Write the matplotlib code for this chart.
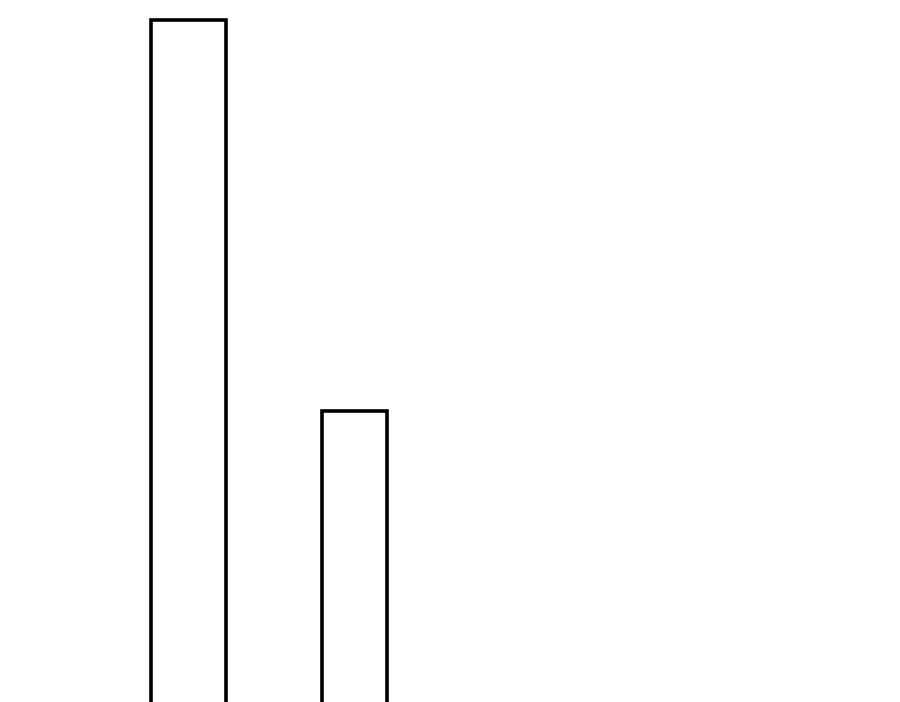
import matplotlib
matplotlib.use("Agg")
import matplotlib.pyplot as plt

# Datos de las barras
categories = ["A", "B"]
values = [100, 45]

# Estilo (anchuras en unidades de categoría)
bar_widths = [0.452, 0.392]

fig = plt.figure(figsize=(9, 7.02), dpi=100)
ax = fig.add_axes([0, 0, 1, 1])

positions = list(range(len(categories)))
ax.bar(positions, values, width=bar_widths, color="white",
       edgecolor="black", linewidth=2.6)

ax.set_xlim(-1.1355, 4.286)
ax.set_ylim(4.06, 102.81)
ax.axis("off")

fig.savefig("out.png", dpi=100, facecolor="white")
